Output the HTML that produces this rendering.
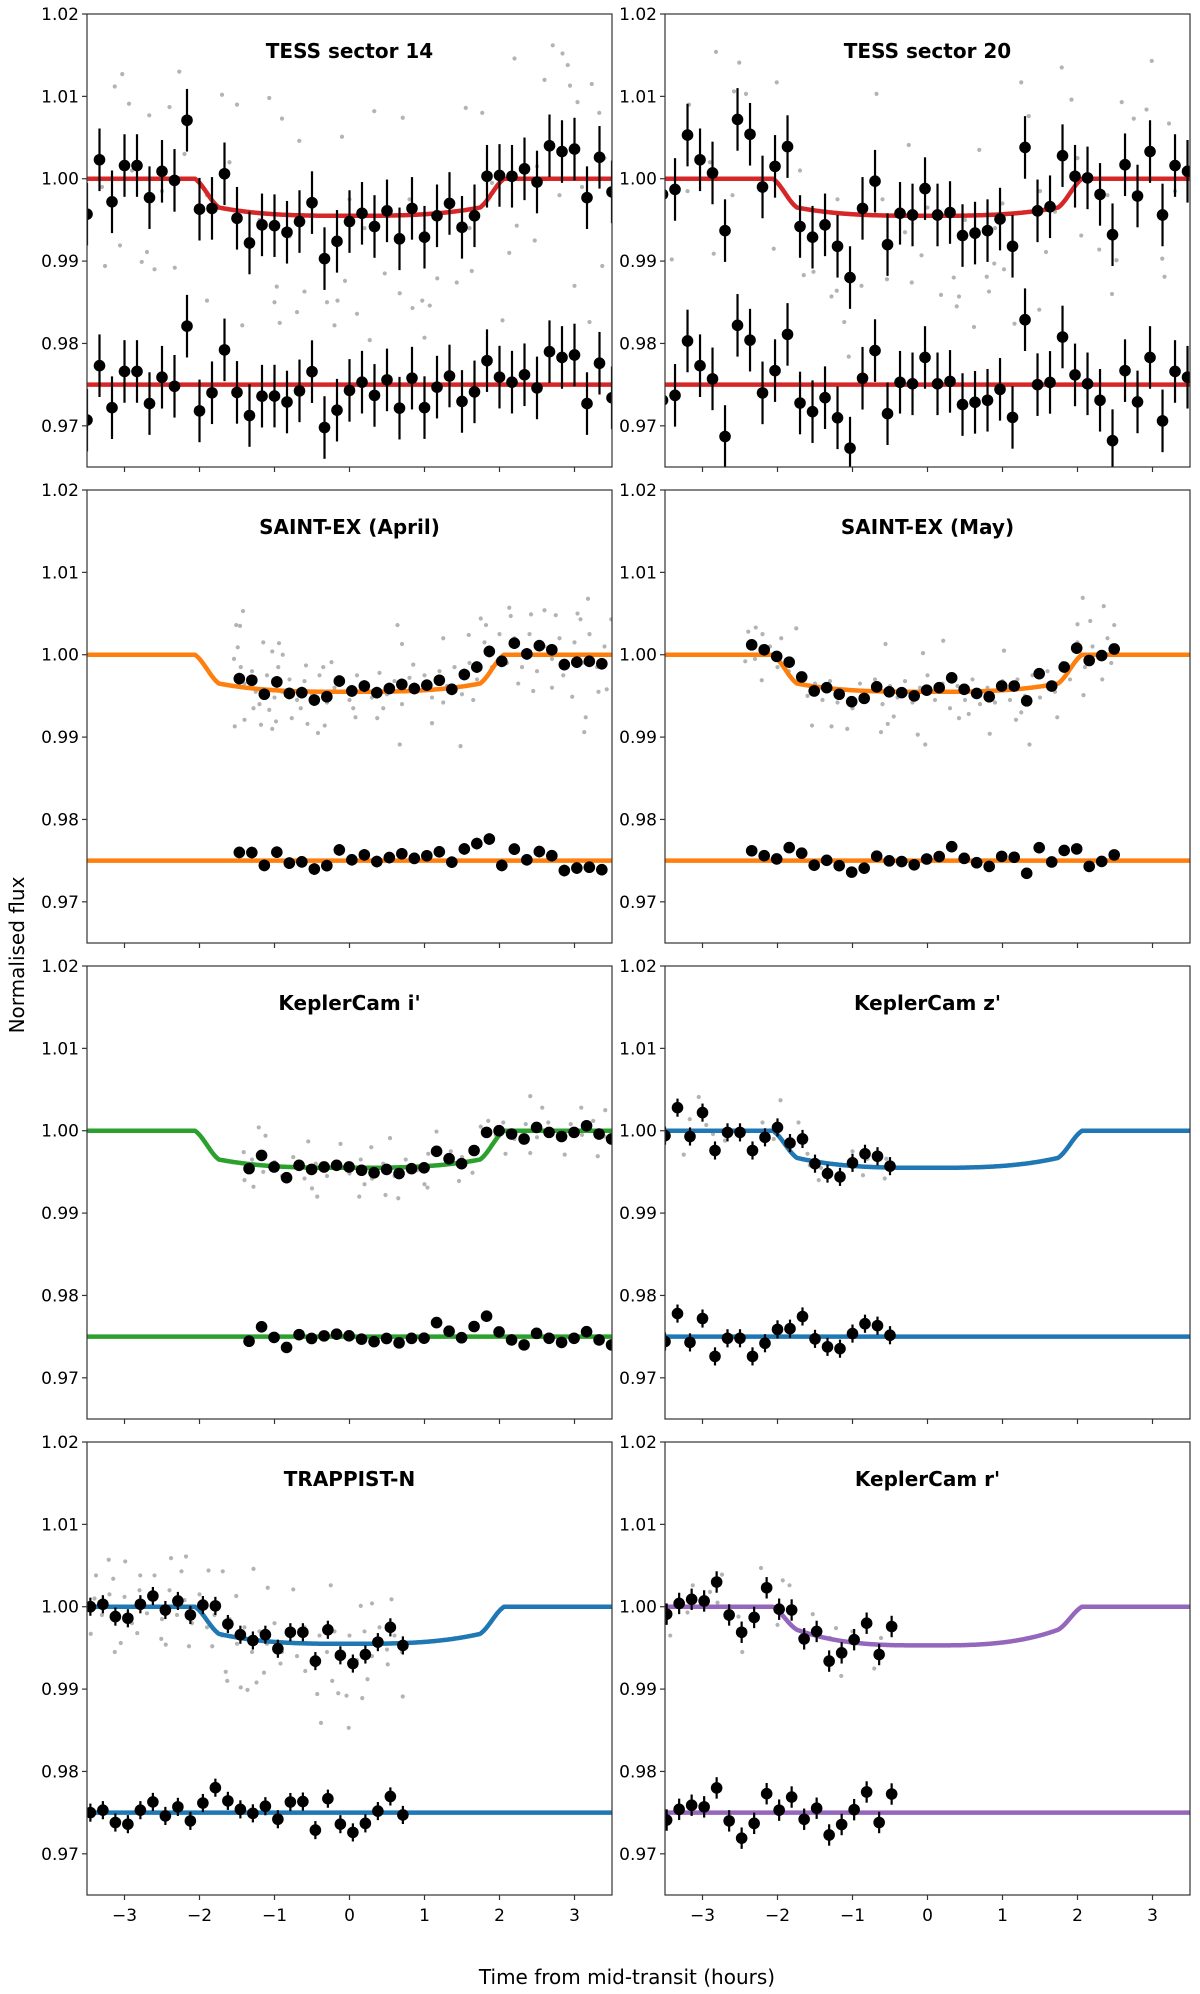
<!DOCTYPE html>
<html><head><meta charset="utf-8"><style>
html,body{margin:0;padding:0;background:#fff}
svg{display:block;font-family:"DejaVu Sans","Liberation Sans",sans-serif}
</style></head><body>
<svg id="fig" width="1200" height="1994" viewBox="0 0 1200 1994" xmlns="http://www.w3.org/2000/svg">
<text x="0" y="0" transform="translate(24,955) rotate(-90)" text-anchor="middle" font-size="20" fill="#000">Normalised flux</text>
<text x="627" y="1984" text-anchor="middle" font-size="20" fill="#000">Time from mid-transit (hours)</text>
</svg>
<script>
// ---------- data ----------
const titles = ["TESS sector 14","TESS sector 20","SAINT-EX (April)","SAINT-EX (May)","KeplerCam i'","KeplerCam z'","TRAPPIST-N","KeplerCam r'"];
const colors = ["#d62728","#d62728","#ff7f0e","#ff7f0e","#2ca02c","#1f77b4","#1f77b4","#9467bd"];
const modelCenterDepth = [0.0045,0.0045,0.0045,0.0045,0.0045,0.0045,0.0045,0.0047];
const modelEdgeDepth   = [0.0035,0.0035,0.0035,0.0035,0.0035,0.0033,0.0033,0.0028];
const binStart = [-3.5,-3.533,-1.469,-2.344,-1.339,-3.5,-3.455,-3.478];
const binErr = [0.0038,0.0038,0.0007,0.0002,0.0002,0.0011,0.0011,0.0013];
const yTicks = [0.97,0.98,0.99,1.00,1.01,1.02];
const yTickLabels = ["0.97","0.98","0.99","1.00","1.01","1.02"];
const xTicks = [-3,-2,-1,0,1,2,3];
const xTickLabels = ["\u22123","\u22122","\u22121","0","1","2","3"];
const residualOffset = 0.975;

const flux0 = [0.9957,1.0023,0.9972,1.0016,1.0016,0.9977,1.0009,0.9998,1.0071,0.9963,0.9964,1.0006,0.9952,0.9922,0.9944,0.9943,0.9935,0.9948,0.9971,0.9903,0.9924,0.9948,0.9958,0.9942,0.9961,0.9927,0.9964,0.9929,0.9955,0.9970,0.9941,0.9955,1.0003,1.0004,1.0003,1.0012,0.9996,1.0040,1.0033,1.0036,0.9977,1.0026,0.9984];
const flux1 = [0.9981,0.9987,1.0053,1.0023,1.0007,0.9937,1.0072,1.0054,0.9990,1.0015,1.0039,0.9942,0.9929,0.9944,0.9918,0.9880,0.9964,0.9997,0.9920,0.9958,0.9956,0.9988,0.9956,0.9959,0.9931,0.9934,0.9937,0.9951,0.9918,1.0038,0.9961,0.9966,1.0028,1.0003,1.0001,0.9981,0.9932,1.0017,0.9979,1.0033,0.9956,1.0016,1.0009];
const flux2 = [0.9971,0.9969,0.9952,0.9967,0.9953,0.9954,0.9945,0.9949,0.9968,0.9956,0.9962,0.9954,0.9959,0.9964,0.9959,0.9963,0.9969,0.9958,0.9976,0.9985,1.0004,0.9992,1.0014,1.0001,1.0011,1.0006,0.9988,0.9991,0.9992,0.9989];
const flux3 = [1.0012,1.0006,0.9998,0.9991,0.9973,0.9956,0.9960,0.9952,0.9943,0.9947,0.9961,0.9955,0.9954,0.9950,0.9957,0.9960,0.9972,0.9958,0.9953,0.9949,0.9962,0.9962,0.9944,0.9977,0.9962,0.9985,1.0008,0.9993,0.9999,1.0007];
const flux4 = [0.9954,0.9970,0.9956,0.9943,0.9958,0.9953,0.9956,0.9958,0.9956,0.9952,0.9949,0.9953,0.9948,0.9954,0.9955,0.9975,0.9966,0.9960,0.9976,0.9998,1.0000,0.9996,0.9990,1.0004,0.9998,0.9993,0.9998,1.0006,0.9996,0.9990];
const flux5 = [0.9994,1.0028,0.9993,1.0022,0.9976,0.9998,0.9998,0.9976,0.9992,1.0004,0.9985,0.9990,0.9960,0.9948,0.9944,0.9961,0.9972,0.9969,0.9957];
const flux6 = [1.0000,1.0003,0.9988,0.9986,1.0003,1.0013,0.9996,1.0007,0.9990,1.0002,1.0001,0.9979,0.9966,0.9959,0.9966,0.9949,0.9969,0.9969,0.9934,0.9972,0.9941,0.9931,0.9942,0.9957,0.9975,0.9953];
const flux7 = [0.9991,1.0004,1.0009,1.0007,1.0030,0.9990,0.9969,0.9987,1.0023,0.9997,0.9996,0.9961,0.9970,0.9934,0.9944,0.9960,0.9980,0.9942,0.9976];

const raw0 = [[-3.13,1.0112],[-3.03,1.0127],[-2.94,1.0091],[-2.27,1.013],[-2.67,1.0077],[-2.4,1.0087],[-1.7,1.0102],[-1.5,1.009],[-1.07,1.0098],[-0.9,1.0073],[0.33,1.0082],[2.2,1.0146],[2.71,1.0162],[2.84,1.0152],[2.91,1.0138],[2.6,1.012],[2.94,1.0113],[3.23,1.0115],[3.04,1.0093],[3.33,1.008],[1.55,1.0086],[1.77,1.008],[0.71,1.0074],[-0.1,1.0051],[-0.67,1.0046],[-3.26,0.9894],[-3.06,0.9919],[-2.77,0.9899],[-2.6,0.989],[-2.33,0.9892],[-2.7,0.9911],[-1.9,0.9852],[-1.43,0.9822],[-1,0.985],[-0.97,0.9869],[-0.93,0.9825],[-0.7,0.9838],[-0.6,0.9863],[-0.3,0.985],[-0.16,0.9852],[-0.2,0.9822],[-0.06,0.9876],[0.1,0.9836],[0.27,0.9804],[0.47,0.9885],[0.67,0.9861],[0.84,0.9843],[0.97,0.9852],[1.07,0.9846],[1.0,0.9807],[1.17,0.9879],[1.43,0.9874],[2.04,0.9828],[2.13,0.991],[2.47,0.9925],[3.0,0.987],[3.2,0.9826],[3.37,0.9894],[2.23,0.9943],[1.63,0.9888],[-3.3,0.999],[-2.9,1.001],[-2.5,0.9985],[-1.9,0.998],[-1.2,0.995],[-0.5,0.9965],[0.2,0.994],[0.8,0.9975],[1.3,0.997],[1.9,0.9995],[2.5,1.0015],[3.1,0.999],[3.4,1.0025],[-0.8,0.993],[0.5,0.996],[1.6,0.994],[-2.2,1.003],[-1.6,1.002],[2.8,0.998],[0.0,0.9975]];
const raw1 = [[-2.82,1.0154],[-2.51,1.0141],[-2.01,1.0117],[-0.68,1.0103],[1.25,1.0117],[1.79,1.0135],[2.99,1.0143],[1.92,1.0096],[2.59,1.0093],[2.92,1.0084],[3.22,1.0067],[2.75,1.0073],[-2.58,1.0106],[-2.42,1.0103],[-3.18,1.009],[-0.25,1.0041],[0.69,1.0035],[1.35,1.0076],[-3.41,0.9902],[-2.85,0.9909],[-2.05,0.9915],[-1.65,0.9883],[-1.52,0.9887],[-1.28,0.9857],[-1.21,0.9864],[-1.11,0.9826],[-0.88,0.987],[-0.54,0.9878],[-0.21,0.9874],[-0.08,0.9907],[0.18,0.9859],[0.35,0.988],[0.42,0.9857],[0.39,0.9845],[0.62,0.982],[0.79,0.9881],[0.82,0.9863],[0.89,0.9897],[1.02,0.989],[1.49,0.9841],[1.58,0.9911],[2.29,0.9914],[2.46,0.986],[2.52,0.9901],[3.13,0.9903],[3.16,0.9881],[2.05,0.9931],[-1.05,0.9784],[1.16,0.9824],[-3.2,0.9985],[-2.9,1.002],[-2.6,0.998],[-2.1,1.0],[-1.7,1.001],[-1.2,0.9975],[-0.6,0.9975],[0.0,0.9965],[0.5,0.995],[1.0,0.997],[1.5,0.9985],[2.0,1.0025],[2.4,0.998],[2.8,1.0],[3.3,0.9985],[-0.3,0.9935],[0.9,0.994],[1.7,0.996]];
const raw2 = [[-1.42,1.0053],[-1.51,1.0036],[-1.46,1.0035],[-1.49,1.0009],[-1.54,0.9995],[-1.53,0.9913],[-1.4,0.9921],[-1.15,1.0015],[-0.94,1.0014],[-1.03,1.0004],[-0.89,1.0],[-1.18,0.9915],[-1.03,0.991],[-0.98,0.9919],[-1.28,0.9935],[-1.07,0.9933],[-0.77,0.9923],[-0.58,0.9987],[-0.42,0.9905],[-0.33,0.9914],[-0.56,0.9916],[-0.24,0.9991],[0.08,0.9924],[0.37,0.9923],[0.64,1.0036],[0.7,1.0013],[0.67,0.9891],[1.1,0.9917],[1.25,1.002],[1.48,0.9889],[1.59,1.0024],[1.75,1.0044],[1.82,1.0036],[2.13,1.0057],[2.15,1.0047],[2.42,1.0049],[2.6,1.0054],[2.75,1.0048],[3.18,1.0068],[3.04,1.005],[3.08,1.0043],[2.45,0.9956],[2.7,0.996],[2.97,0.9949],[3.13,0.9906],[3.15,0.9924],[3.32,0.9955],[3.43,0.9958],[3.49,1.0043],[-1.4,0.9965],[-1.3,0.998],[-1.2,0.994],[-1.1,0.9975],[-1.0,0.9948],[-0.9,0.9955],[-0.8,0.997],[-0.7,0.9945],[-0.6,0.9968],[-0.5,0.9952],[-0.4,0.9975],[-0.3,0.9942],[-0.2,0.996],[-0.1,0.997],[0.0,0.9945],[0.1,0.9975],[0.2,0.9958],[0.3,0.9948],[0.4,0.9978],[0.5,0.9952],[0.6,0.9968],[0.7,0.994],[0.8,0.9972],[0.9,0.9955],[1.0,0.9975],[1.1,0.9948],[1.2,0.998],[1.3,0.9962],[1.4,0.9985],[1.5,0.9952],[1.6,0.999],[1.7,0.997],[1.8,1.0015],[1.9,0.9985],[2.0,1.0025],[2.1,0.999],[2.2,1.002],[2.3,0.9985],[2.4,1.0025],[2.5,0.998],[2.6,1.001],[2.7,0.9995],[2.8,1.002],[2.9,0.9985],[3.0,1.0015],[3.1,0.999],[3.2,1.0025],[3.3,0.9985],[3.4,1.001],[-1.45,0.9985],[-1.25,0.9955],[-0.95,0.9985],[-0.65,0.9935],[-0.35,0.9985],[0.05,0.9935],[0.45,0.9935],[0.85,0.9988],[1.25,0.9942],[1.65,0.9945],[2.25,0.9965],[2.85,0.9975]];
const raw3 = [[-2.29,1.0033],[-1.75,1.0032],[-2.39,1.0028],[-2.21,0.9969],[-2.43,0.9992],[-0.56,1.0013],[0.21,1.0017],[-0.06,1.0002],[1.02,1.0005],[2.07,1.0069],[2.35,1.0059],[2.17,1.0041],[2.49,1.0036],[2.0,1.0037],[-1.54,0.9914],[-1.28,0.9913],[-1.07,0.991],[-0.62,0.9906],[-0.13,0.9903],[-0.03,0.9891],[0.83,0.9904],[1.36,0.9891],[1.18,0.9921],[1.73,0.9924],[2.08,0.9951],[2.33,0.997],[0.42,0.9923],[-0.53,0.9916],[-2.3,0.9995],[-2.1,1.001],[-2.0,0.9985],[-1.85,0.998],[-1.7,0.9965],[-1.6,0.995],[-1.5,0.9965],[-1.4,0.9945],[-1.3,0.9968],[-1.2,0.9942],[-1.1,0.9958],[-1.0,0.9935],[-0.9,0.9965],[-0.8,0.9945],[-0.7,0.997],[-0.6,0.994],[-0.5,0.9962],[-0.4,0.9948],[-0.3,0.9968],[-0.2,0.9942],[-0.1,0.996],[0.0,0.9975],[0.1,0.9945],[0.2,0.9965],[0.3,0.9935],[0.4,0.9962],[0.5,0.9945],[0.6,0.997],[0.7,0.994],[0.8,0.996],[0.9,0.9942],[1.0,0.9968],[1.1,0.9945],[1.2,0.997],[1.3,0.995],[1.4,0.9975],[1.5,0.9948],[1.6,0.998],[1.7,0.9955],[1.8,0.999],[1.9,0.997],[2.0,1.0015],[2.1,0.9985],[2.2,1.001],[2.3,0.9995],[2.4,1.002],[2.45,0.999],[-2.2,1.0025],[-1.95,1.002],[-0.45,0.9925],[0.55,0.9928],[1.25,0.993]];
const raw4 = [[-1.21,1.0004],[-1.12,0.9994],[-1.41,0.9974],[-1.4,0.994],[-1.28,0.9932],[-0.43,0.992],[0.13,0.992],[0.65,0.9918],[0.48,0.9922],[0.54,0.9991],[1.16,0.9999],[2.41,1.0042],[2.57,1.0028],[3.09,1.0028],[3.41,1.0025],[3.31,0.9969],[2.87,0.9971],[2.08,0.9972],[2.41,0.9973],[1.46,0.9939],[1.64,0.9949],[1.04,0.9931],[-0.55,0.9987],[-0.12,0.9984],[0.29,0.998],[-1.3,0.9965],[-1.15,0.995],[-1.0,0.9962],[-0.9,0.9945],[-0.75,0.9968],[-0.6,0.9942],[-0.45,0.996],[-0.3,0.9945],[-0.15,0.9962],[0.0,0.9948],[0.15,0.9965],[0.3,0.9942],[0.45,0.996],[0.6,0.9945],[0.75,0.9965],[0.9,0.9952],[1.05,0.9972],[1.2,0.9958],[1.35,0.9975],[1.5,0.9968],[1.65,0.998],[1.75,1.0005],[1.85,1.0012],[1.95,0.9995],[2.05,1.001],[2.2,0.999],[2.35,1.0008],[2.5,0.9992],[2.65,1.001],[2.8,0.999],[2.95,1.0008],[3.1,0.9995],[3.25,1.0012],[3.4,0.9993],[-0.5,0.993],[0.2,0.9935],[1.0,0.9935]];
const raw5 = [[-3.05,1.0041],[-3.17,1.0014],[-3.25,0.9971],[-2.95,1.0007],[-2.7,0.9988],[-2.86,0.9996],[-2.3,0.9976],[-2.2,1.001],[-1.96,1.0037],[-1.72,1.001],[-1.6,0.9972],[-1.57,0.9958],[-1.42,0.9955],[-1.0,0.9975],[-0.8,0.9966],[-0.86,0.9946],[-0.55,0.9966],[-0.57,0.9942],[-3.0,1.0027],[-2.05,0.999],[-1.45,0.994],[-1.15,0.9942],[-1.3,0.995]];
const raw6 = [[-3.21,1.0057],[-2.99,1.0055],[-2.38,1.0059],[-2.18,1.0061],[-3.38,1.0038],[-3.15,1.0034],[-2.79,1.0038],[-2.6,1.0038],[-2.24,1.0043],[-1.88,1.0044],[-1.69,1.0043],[-1.28,1.0046],[-1.09,1.0023],[-0.75,1.0021],[-0.25,1.0026],[-1.51,1.0013],[-3.45,0.9967],[-3.13,0.9945],[-3.05,0.9956],[-2.83,0.9968],[-2.51,0.9961],[-2.45,0.9954],[-2.14,0.9952],[-1.83,0.9952],[-1.65,0.9921],[-1.63,0.991],[-1.45,0.9902],[-1.36,0.9899],[-1.24,0.9908],[-1.14,0.992],[-0.92,0.9931],[-0.59,0.9922],[-0.43,0.9894],[-0.38,0.9859],[-0.23,0.991],[-0.15,0.9895],[-0.04,0.9892],[-0.01,0.9853],[0.17,0.9889],[0.24,0.9912],[0.71,0.9891],[0.51,0.993],[0.15,1.0001],[0.3,1.0004],[0.56,1.0009],[-3.4,1.001],[-3.3,0.999],[-3.2,1.0015],[-3.1,0.9985],[-3.0,1.0012],[-2.9,0.998],[-2.8,1.002],[-2.7,0.9992],[-2.6,1.0012],[-2.5,0.9985],[-2.4,1.002],[-2.3,0.999],[-2.2,1.0008],[-2.1,0.998],[-2.0,1.0015],[-1.9,0.9975],[-1.8,0.999],[-1.7,0.9965],[-1.6,0.9985],[-1.5,0.9955],[-1.4,0.9975],[-1.3,0.9945],[-1.2,0.997],[-1.1,0.9955],[-1.0,0.998],[-0.9,0.9945],[-0.8,0.997],[-0.7,0.994],[-0.6,0.9975],[-0.5,0.9935],[-0.4,0.9965],[-0.3,0.9945],[-0.2,0.997],[-0.1,0.994],[0.0,0.9965],[0.1,0.9935],[0.2,0.997],[0.3,0.994],[0.4,0.9975],[0.5,0.9948],[0.6,0.9965],[0.7,0.9945]];
const raw7 = [[-2.74,1.0039],[-2.22,1.0047],[-1.84,1.0026],[-1.93,1.0032],[-3.43,0.9965],[-2.52,0.9988],[-2.0,0.9978],[-2.47,0.9945],[-3.13,1.0026],[-2.9,1.0018],[-1.53,0.9991],[-1.45,0.9969],[-1.3,0.9962],[-1.22,0.9974],[-1.15,0.9916],[-0.71,0.9925],[-0.62,0.9962],[-1.0,0.997],[-0.93,0.9958],[-2.8,1.0005],[-3.2,0.9993],[-1.7,0.9962]];

const fluxes = [flux0,flux1,flux2,flux3,flux4,flux5,flux6,flux7];
const raws = [raw0,raw1,raw2,raw3,raw4,raw5,raw6,raw7];

// ---------- layout ----------
const NS = "http://www.w3.org/2000/svg";
const svg = document.getElementById('fig');
const colLeft = [87,665], panelW = 525, rowTop = [14,490,966,1442], panelH = 453;
const X0 = -3.5, X1 = 3.5, Y0 = 0.965, Y1 = 1.02;
function mk(tag, attrs, parent){const e=document.createElementNS(NS,tag);for(const k in attrs)e.setAttribute(k,attrs[k]);(parent||svg).appendChild(e);return e;}
function model(t, p){
  const a=Math.abs(t), t1=1.74, t2=2.06, d0=modelCenterDepth[p], de=modelEdgeDepth[p];
  if(a>=t2) return 1;
  if(a<=t1) return 1-(d0-(d0-de)*Math.pow(a/t1,3));
  const s=(a-t1)/(t2-t1); const sm=0.5-0.5*Math.cos(Math.PI*s);
  return 1-de*(1-(0.6*s+0.4*sm));
}

for(let p=0;p<8;p++){
  const col=p%2,row=Math.floor(p/2);
  const L=colLeft[col],T=rowTop[row];
  const sx=t=>L+(t-X0)/(X1-X0)*panelW;
  const sy=f=>T+(Y1-f)/(Y1-Y0)*panelH;
  const g=mk('g',{});
  
  
  const cp=mk('clipPath',{id:'cp'+p},g); mk('rect',{x:L,y:T,width:panelW,height:panelH},cp);
  const plot=mk('g',{'clip-path':'url(#cp'+p+')'},g);
  // gray raw points
  const rg=mk('g',{fill:'#b3b3b3'},plot);
  
  
  raws[p].forEach(d=>{const c=mk('circle',{cx:sx(d[0]),cy:sy(d[1]),r:2.1},rg);
    
    });
  // model curves
  let dm='',dr='';
  for(let i=0;i<=700;i++){const t=X0+i*(X1-X0)/700; dm+=(i?'L':'M')+sx(t).toFixed(1)+','+sy(model(t,p)).toFixed(1);}
  const ml=mk('path',{d:dm,fill:'none',stroke:colors[p],'stroke-width':4.5,'stroke-linejoin':'round'},plot);
  
  
  const rl=mk('line',{x1:L,x2:L+panelW,y1:sy(residualOffset),y2:sy(residualOffset),stroke:colors[p],'stroke-width':4.5},plot);
  
  
  // binned points + residuals
  const fl=fluxes[p];
  fl.forEach((f,i)=>{
    const t=binStart[p]+i/6, e=binErr[p];
    const r=f-model(t,p)+residualOffset;
    [[f,'binned-point'],[r,'residual-point']].forEach(([v,nm])=>{
      const gp=mk('g',{},plot);
      
      
      mk('line',{x1:sx(t),x2:sx(t),y1:sy(v-e),y2:sy(v+e),stroke:'#000','stroke-width':2.2},gp);
      mk('circle',{cx:sx(t),cy:sy(v),r:5.8,fill:'#000'},gp);
    });
  });
  // title
  const tt=mk('text',{x:L+panelW/2,y:T+44,'text-anchor':'middle','font-size':20,'font-weight':'bold'},g);
  tt.textContent=titles[p];
  
  
  // frame
  const fr=mk('rect',{x:L,y:T,width:panelW,height:panelH,fill:'none',stroke:'#333','stroke-width':1.2},g);
  
  
  // y ticks
  yTicks.forEach((v,i)=>{
    mk('line',{x1:L-5,x2:L,y1:sy(v),y2:sy(v),stroke:'#333','stroke-width':1.2},g);
    const tl=mk('text',{x:L-8,y:sy(v)+6,'text-anchor':'end','font-size':17},g);
    tl.textContent=yTickLabels[i];
    
    
  });
  // x ticks
  xTicks.forEach((v,i)=>{
    mk('line',{x1:sx(v),x2:sx(v),y1:T+panelH,y2:T+panelH+5,stroke:'#333','stroke-width':1.2},g);
    if(row===3){
      const tl=mk('text',{x:sx(v),y:T+panelH+26,'text-anchor':'middle','font-size':17},g);
      tl.textContent=xTickLabels[i];
      
      
    }
  });
}
</script>
</body></html>
